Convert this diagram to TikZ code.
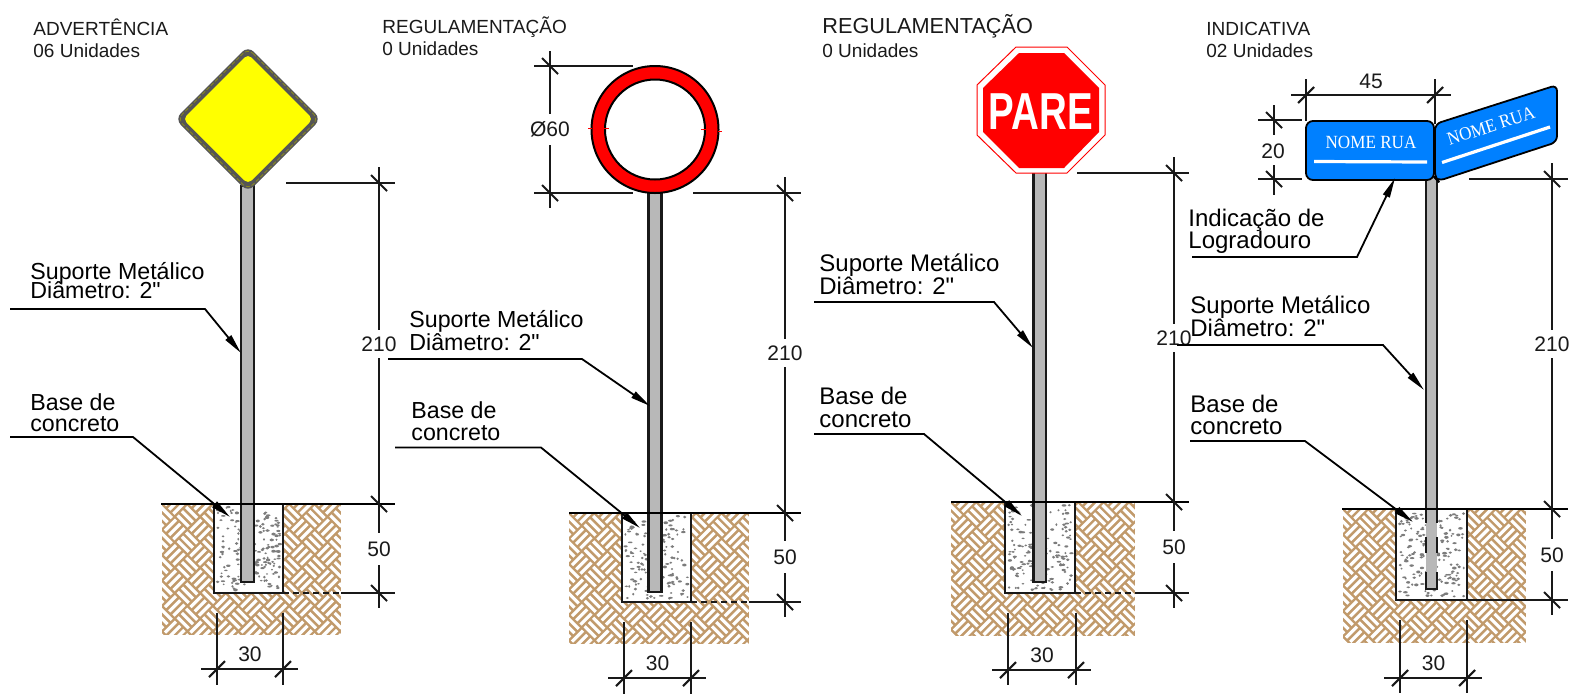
\documentclass[tikz,border=0pt]{standalone}
\usepackage{fontspec}
\usepackage{graphicx}
\setmainfont{Liberation Sans}[Ligatures=TeXOff]
\newfontfamily\platefont{Liberation Serif}
\usetikzlibrary{arrows.meta}
\definecolor{soil}{HTML}{C19A6B}
\definecolor{plate}{HTML}{0080FF}
\definecolor{polegray}{HTML}{B8B8B8}
\definecolor{stip}{HTML}{7C7C7C}
\definecolor{ink}{HTML}{1A1A1A}
\definecolor{signyellow}{HTML}{FFFF00}
\definecolor{signred}{HTML}{FF0000}
\definecolor{rimolive}{HTML}{8A8A20}
\definecolor{rimgray}{HTML}{555555}
\tikzset{
  dimline/.style={line width=1.05pt,black!90},
  groundline/.style={line width=1.35pt,black},
  leader/.style={line width=.9pt,black,-{Stealth[length=10pt,width=3.6pt,inset=0pt]}},
  polebox/.style={draw=black!90,line width=1.1pt,fill=polegray},
  dimtext/.style={font=\fontsize{10.5pt}{10.5pt}\selectfont,text=ink,inner sep=0pt},
  labeltext/.style={font=\fontsize{11.6pt}{11.6pt}\selectfont,text=black,inner sep=0pt,anchor=base west},
  labeltextb/.style={labeltext,font=\fontsize{12pt}{12pt}\selectfont},
  headtext/.style={font=\fontsize{9.5pt}{9.5pt}\selectfont,text=ink,inner sep=0pt,anchor=base west},
  platetext/.style={font=\platefont\fontsize{9.3pt}{9.3pt}\selectfont,text=white,inner sep=0pt},
}
% tick marks
\newcommand\tickV[2]{\draw[dimline] ({#1-8},{#2-8}) -- ({#1+8},{#2+8});}
\newcommand\tickH[2]{\draw[dimline] ({#1-8},{#2+8}) -- ({#1+8},{#2-8});}
% soil: x1 x2 y1 y2
\newcommand\soilblock[4]{%
  \fill[soil] (#1,#3) rectangle (#2,#4);
  \begin{scope}
    \clip (#1,#3) rectangle (#2,#4);
    \begin{scope}[shift={(#1,#3)},rotate=45]
      \foreach \i in {-7,...,9}{\foreach \j in {-2,...,14}{%
        \ifodd\numexpr\i+\j+8\relax
          \foreach \s in {3,9,15}{\draw[white,line width=1.6pt]
            ({\i*18+\s},{\j*18+1.2}) -- ({\i*18+\s},{\j*18+16.8});}
        \else
          \foreach \s in {3,9,15}{\draw[white,line width=1.6pt]
            ({\i*18+1.2},{\j*18+\s}) -- ({\i*18+16.8},{\j*18+\s});}
        \fi
      }}
    \end{scope}
  \end{scope}}
% concrete: x1 x2 y1 y2
\newcommand\concrete[4]{%
  \fill[white] (#1,#3) rectangle (#2,#4);
  \foreach \k in {1,...,170}{%
    \pgfmathsetmacro\dx{#1+3+rnd*(#2-#1-6)}
    \pgfmathsetmacro\dy{#3+3+rnd*(#4-#3-6)}
    \pgfmathsetmacro\rx{1+rnd*1.4}
    \pgfmathsetmacro\ry{.8+rnd*.7}
    \fill[stip] (\dx,\dy) ellipse [x radius=\rx,y radius=\ry];
  }}
% vertical dimension chain: x top ground bottom y210 y50 right-end
\newcommand\dimchain[7]{%
  \draw[dimline] (#1,{#2-16}) -- (#1,{#5-14});
  \draw[dimline] (#1,{#5+14}) -- (#1,{#6-16});
  \draw[dimline] (#1,{#6+16}) -- (#1,{#4+15});
  \tickV{#1}{#2}\tickV{#1}{#3}\tickV{#1}{#4}
  \node[dimtext] at (#1,#5) {210};
  \node[dimtext] at (#1,#6) {50};}
% horizontal 30 dimension: x1 x2 ystart y yend
\newcommand\dimthirty[5]{%
  \draw[dimline] (#1,#3) -- (#1,#5);
  \draw[dimline] (#2,#3) -- (#2,#5);
  \draw[dimline] ({#1-16},#4) -- ({#2+15},#4);
  \tickH{#1}{#4}\tickH{#2}{#4}
  \node[dimtext] at ({(#1+#2)/2},{#4-15}) {30};}
\begin{document}
\begin{tikzpicture}[x=.5pt,y=-.5pt]
\useasboundingbox (0,0) rectangle (1580,698);
\fill[white] (0,0) rectangle (1580,698);
\pgfmathsetseed{4711}

%% ---------- soil and concrete
\soilblock{162}{341}{504}{635}
\soilblock{569}{749}{513}{644}
\soilblock{951}{1135}{502}{636}
\soilblock{1343}{1526}{509}{643}
\concrete{214}{283}{504}{593}
\concrete{622}{691}{513}{602}
\concrete{1005}{1075}{502}{593}
\concrete{1396}{1467}{509}{600}

%% ---------- sign 1
\node[headtext] (h1a) at (33,35) {ADVERTÊNCIA};
\node[headtext] (h1b) at (33,57) {06 Unidades};
\draw[polebox] (241,186) rectangle (254,582);
\fill[rimgray,rounded corners=4pt] (248,46) -- (321,119) -- (248,192) -- (175,119) -- cycle;
\draw[rimolive,line width=.4pt,dash pattern=on 2pt off 1pt,rounded corners=3.5pt] (248,48.5) -- (318.5,119) -- (248,189.5) -- (177.5,119) -- cycle;
\fill[signyellow,rounded corners=2.5pt] (248,54) -- (313,119) -- (248,184) -- (183,119) -- cycle;
\draw[dimline] (214,504) -- (214,593) -- (283,593) -- (283,504);
\draw[dimline,densely dashed] (283,593) -- (341,593);
\draw[dimline] (341,593) -- (395,593);
\draw[groundline] (161,504) -- (395,504);
\draw[dimline] (286,183) -- (395,183);
\dimchain{379}{183}{504}{593}{344}{549}{395}
\dimthirty{217}{283}{613}{669}{685}
\node[labeltext] (s1a) at (30,279) {Suporte Metálico};
\node[labeltext] (s1b) at (30,298) {Diâmetro: 2"};
\coordinate (l1a) at (10,309); \coordinate (l1b) at (205,309); \coordinate (l1c) at (241,353);
\draw[leader] (l1a) -- (l1b) -- (l1c);
\node[labeltext] (b1a) at (30,410) {Base de};
\node[labeltext] (b1b) at (30,431) {concreto};
\coordinate (l2a) at (10,437); \coordinate (l2b) at (133,437); \coordinate (l2c) at (230,517);
\draw[leader] (l2a) -- (l2b) -- (l2c);

%% ---------- sign 2
\node[headtext] (h2a) at (382,33) {REGULAMENTAÇÃO};
\node[headtext] (h2b) at (382,55) {0 Unidades};
\draw[polebox] (648.5,190) rectangle (661.5,592);
\draw[black,line width=1pt,fill=signred,even odd rule] (655,129.5) circle (63.5) (655,129.5) circle (50);
\draw[signred,line width=.25pt] (588,128) -- (592,128) (604,128.5) -- (609,128.5);
\draw[signred,line width=.25pt] (701,129) -- (706,129) (718,131) -- (722,131);
\draw[dimline] (622,513) -- (622,602) -- (691,602) -- (691,513);
\draw[dimline,densely dashed] (691,602) -- (749,602);
\draw[dimline] (749,602) -- (801,602);
\draw[groundline] (569,513) -- (801,513);
\draw[dimline] (693,193) -- (801,193);
\dimchain{785}{193}{513}{602}{353}{557}{801}
\dimthirty{624}{691}{622}{678}{694}
\draw[dimline] (534,66) -- (633,66);
\draw[dimline] (534,193) -- (633,193);
\draw[dimline] (550,51) -- (550,114);
\draw[dimline] (550,145) -- (550,208);
\tickV{550}{66}\tickV{550}{193}
\node[dimtext] (d60) at (550,129) {Ø60};
\node[labeltext] (s2a) at (409,327) {Suporte Metálico};
\node[labeltext] (s2b) at (409,350) {Diâmetro: 2"};
\coordinate (l3a) at (388,359); \coordinate (l3b) at (582,359); \coordinate (l3c) at (650,406);
\draw[leader] (l3a) -- (l3b) -- (l3c);
\node[labeltext] (b2a) at (411,418) {Base de};
\node[labeltext] (b2b) at (411,440) {concreto};
\coordinate (l4a) at (395,447.5); \coordinate (l4b) at (541,447.5); \coordinate (l4c) at (640,528);
\draw[leader] (l4a) -- (l4b) -- (l4c);

%% ---------- sign 3
\node[headtext,font=\fontsize{10.85pt}{10.85pt}\selectfont] (h3a) at (822,33) {REGULAMENTAÇÃO};
\node[headtext] (h3b) at (822,57) {0 Unidades};
\draw[polebox] (1033.5,170) rectangle (1046,582);
\fill[white] (1016,47) -- (1067,47) -- (1105,85) -- (1105,135) -- (1067,173) -- (1016,173) -- (977,135) -- (977,85) -- cycle;
\draw[signred,line width=.5pt] (1016,47) -- (1067,47) -- (1105,85) -- (1105,135) -- (1067,173) -- (1016,173) -- (977,135) -- (977,85) -- cycle;
\fill[signred] (1019,53) -- (1064,53) -- (1099,88) -- (1099,132) -- (1064,168) -- (1019,168) -- (983,132) -- (983,88) -- cycle;
\node[inner sep=0pt,text=white,font=\bfseries\fontsize{26pt}{26pt}\selectfont] (pare) at (1041,111.5) {\scalebox{.74}[1]{PARE}};
\draw[dimline] (1005,502) -- (1005,593) -- (1075,593) -- (1075,502);
\draw[dimline,densely dashed] (1075,593) -- (1135,593);
\draw[dimline] (1135,593) -- (1189,593);
\draw[groundline] (951,502) -- (1189,502);
\draw[dimline] (1077,173) -- (1189,173);
\dimchain{1174}{173}{502}{593}{338}{547}{1189}
\dimthirty{1008}{1076}{613}{670}{685}
\node[labeltextb] (s3a) at (819,271) {Suporte Metálico};
\node[labeltextb] (s3b) at (819,294) {Diâmetro: 2"};
\coordinate (l5a) at (814,302); \coordinate (l5b) at (994,302); \coordinate (l5c) at (1033,348);
\draw[leader] (l5a) -- (l5b) -- (l5c);
\node[labeltextb] (b3a) at (819,404) {Base de};
\node[labeltextb] (b3b) at (819,427) {concreto};
\coordinate (l6a) at (814,434); \coordinate (l6b) at (924,434); \coordinate (l6c) at (1022,516);
\draw[leader] (l6a) -- (l6b) -- (l6c);

%% ---------- sign 4
\node[headtext] (h4a) at (1206,35) {INDICATIVA};
\node[headtext] (h4b) at (1206,57) {02 Unidades};
\fill[polegray] (1426,178) rectangle (1437,589);
\draw[dimline] (1426,178) -- (1426,523);
\draw[dimline] (1437,178) -- (1437,523);
\draw[dimline] (1426,537) -- (1426,553) (1437,537) -- (1437,553);
\draw[dimline] (1426,572) -- (1426,589) -- (1437,589) -- (1437,572);
\draw[black,line width=.9pt,fill=plate,rounded corners=3.5pt] (1306,121) rectangle (1434,180);
\draw[black,line width=.9pt,fill=plate,rounded corners=3pt] (1435,124) -- (1557,85) -- (1557,142) -- (1438,181) -- (1435,178) -- cycle;
\draw[white,line width=1.6pt] (1314,161.5) -- (1427,162);
\draw[white,line width=1.6pt] (1442,162.5) -- (1550,127);
\node[platetext] (n1) at (1371,142) {\scalebox{.92}[1]{NOME RUA}};
\node[platetext,rotate=18] (n2) at (1491,126) {\scalebox{.92}[1]{NOME RUA}};
\draw[dimline] (1396,509) -- (1396,600) -- (1467,600) -- (1467,509);
\draw[groundline] (1342,509) -- (1568,509);
\draw[dimline] (1467,600) -- (1568,600);
\draw[dimline] (1469,179) -- (1568,179);
\dimchain{1552}{179}{509}{600}{344}{555}{1568}
\dimthirty{1400}{1467}{620}{678}{693}
% 45
\draw[dimline] (1306,79) -- (1306,121);
\draw[dimline] (1435,79) -- (1435,124);
\draw[dimline] (1291,95) -- (1451,95);
\tickH{1306}{95}\tickH{1435}{95}
\node[dimtext] (d45) at (1371,81) {45};
% 20
\draw[dimline] (1258,120) -- (1302,120);
\draw[dimline] (1258,179) -- (1302,179);
\draw[dimline] (1274,105) -- (1274,135);
\draw[dimline] (1274,165) -- (1274,195);
\tickV{1274}{120}\tickV{1274}{179}
\node[dimtext] (d20) at (1273,151) {20};
\node[labeltextb] (i4a) at (1188,226) {Indicação de};
\node[labeltextb] (i4b) at (1188,248) {Logradouro};
\coordinate (l7a) at (1192,257); \coordinate (l7b) at (1357,257); \coordinate (l7c) at (1395,178);
\draw[leader] (l7a) -- (l7b) -- (l7c);
\node[labeltextb] (s4a) at (1190,313) {Suporte Metálico};
\node[labeltextb] (s4b) at (1190,336) {Diâmetro: 2"};
\coordinate (l8a) at (1177,345); \coordinate (l8b) at (1383,345); \coordinate (l8c) at (1424,390);
\draw[leader] (l8a) -- (l8b) -- (l8c);
\node[labeltextb] (b4a) at (1190,412) {Base de};
\node[labeltextb] (b4b) at (1190,434) {concreto};
\coordinate (l9a) at (1190,441); \coordinate (l9b) at (1305,441); \coordinate (l9c) at (1413,522);
\draw[leader] (l9a) -- (l9b) -- (l9c);
\end{tikzpicture}
\end{document}
